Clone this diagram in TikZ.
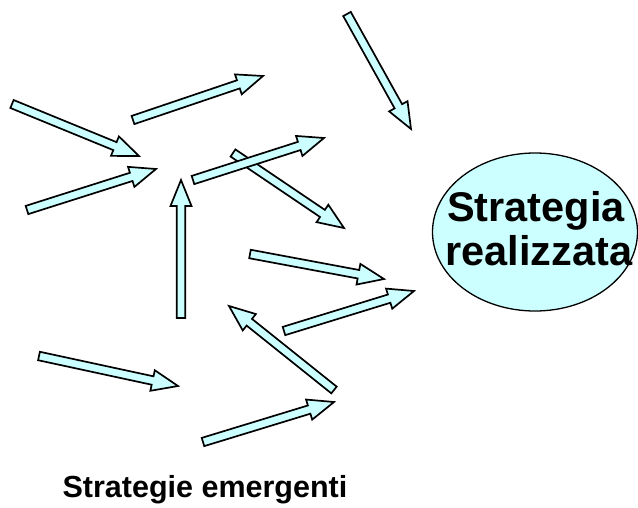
\documentclass[tikz,border=0pt]{standalone}
\usepackage{fontspec}
\setmainfont{Liberation Sans}
\usetikzlibrary{calc,shapes.geometric}
\definecolor{cyanfill}{HTML}{CCFFFF}
\tikzset{
  blockarrow/.style={draw=black, line width=1.7pt, fill=cyanfill, line join=miter},
  goalstyle/.style={ellipse, draw=black, line width=1.3pt, fill=cyanfill, minimum width=205pt, minimum height=158pt, inner sep=0pt},
  goaltext/.style={anchor=base, inner sep=0pt, font=\fontsize{41.5}{48}\selectfont\bfseries},
  labelstyle/.style={font=\fontsize{30.5}{36}\selectfont\bfseries, inner sep=0pt, anchor=base}
}
\newcommand\barrow[2]{%
  \draw[blockarrow]
    ($(#1)!4.3pt!90:(#2)$) --
    ($($(#2)!26pt!(#1)$)!4.3pt!90:(#2)$) --
    ($($(#2)!26pt!(#1)$)!10.5pt!90:(#2)$) --
    (#2) --
    ($($(#2)!26pt!(#1)$)!10.5pt!-90:(#2)$) --
    ($($(#2)!26pt!(#1)$)!4.3pt!-90:(#2)$) --
    ($(#1)!4.3pt!-90:(#2)$) -- cycle;}
\begin{document}
\begin{tikzpicture}[x=1pt,y=-1pt]
\useasboundingbox (0,0) rectangle (638,507);
% arrow end points
\coordinate (s1) at (347,14);   \coordinate (e1) at (411,129);
\coordinate (s2) at (12,104);   \coordinate (e2) at (139,156);
\coordinate (s3) at (27,210);   \coordinate (e3) at (156,169);
\coordinate (s4) at (133,120);  \coordinate (e4) at (263,76);
\coordinate (s6) at (233,153);  \coordinate (e6) at (344,228);
\coordinate (s5) at (193,180);  \coordinate (e5) at (324,138);
\coordinate (s7) at (181,318);  \coordinate (e7) at (181,180);
\coordinate (s8) at (250,254);  \coordinate (e8) at (384,279);
\coordinate (s9) at (284,331);  \coordinate (e9) at (414,291);
\coordinate (s10) at (334,390); \coordinate (e10) at (229,306);
\coordinate (s11) at (39,356);  \coordinate (e11) at (178,386);
\coordinate (s12) at (203,442); \coordinate (e12) at (334,402);
\barrow{s1}{e1}
\barrow{s2}{e2}
\barrow{s3}{e3}
\barrow{s4}{e4}
\barrow{s6}{e6}
\barrow{s5}{e5}
\barrow{s7}{e7}
\barrow{s8}{e8}
\barrow{s9}{e9}
\barrow{s10}{e10}
\barrow{s11}{e11}
\barrow{s12}{e12}
\node[goalstyle] (goal) at (535,232) {};
\node[goaltext] (goal1) at (536,221) {Strategia};
\node[goaltext] (goal2) at (539,265) {realizzata};
\node[labelstyle] (emerg) at (205,497) {Strategie emergenti};
\end{tikzpicture}
\end{document}
